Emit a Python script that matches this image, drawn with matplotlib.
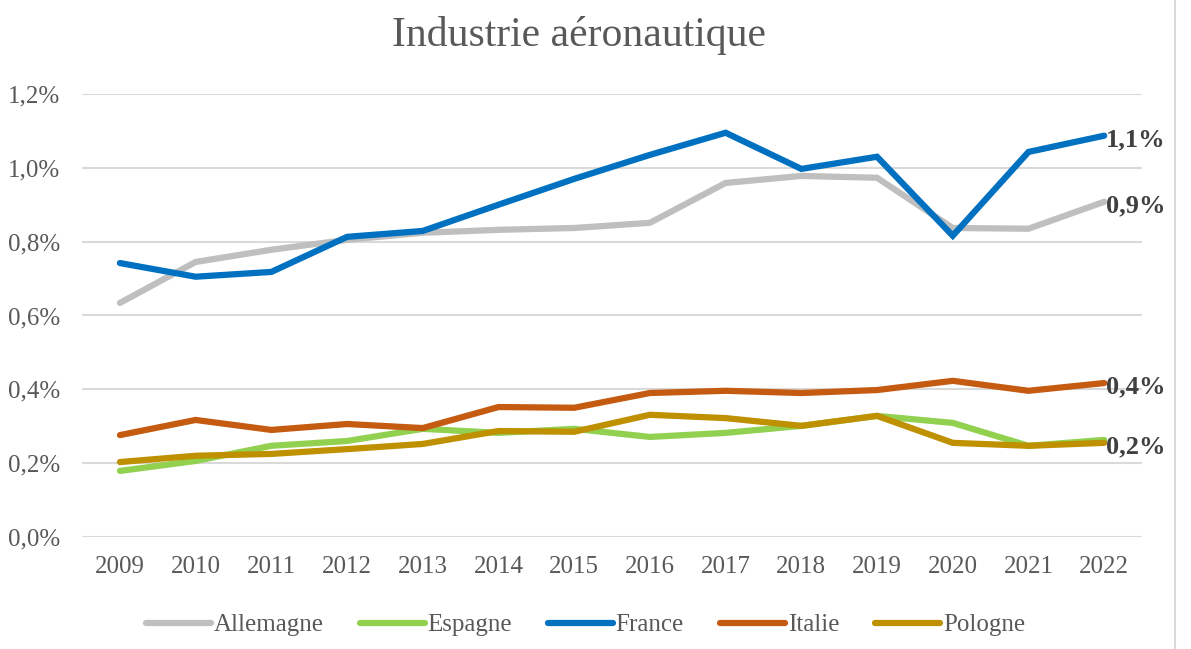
import numpy as np
import matplotlib.pyplot as plt
from matplotlib.lines import Line2D
from matplotlib.ticker import FuncFormatter

plt.rcParams['font.family'] = ['Liberation Serif', 'DejaVu Serif']

years = list(range(2009, 2023))
allemagne = [0.634, 0.745, 0.778, 0.805, 0.824, 0.832, 0.837, 0.851, 0.959, 0.978, 0.973, 0.837, 0.835, 0.908]
espagne = [0.179, 0.206, 0.247, 0.260, 0.293, 0.282, 0.293, 0.271, 0.282, 0.301, 0.328, 0.309, 0.247, 0.263]
france = [0.742, 0.705, 0.718, 0.813, 0.829, 0.900, 0.970, 1.035, 1.095, 0.997, 1.030, 0.816, 1.043, 1.087]
italie = [0.276, 0.317, 0.290, 0.306, 0.295, 0.352, 0.350, 0.390, 0.396, 0.390, 0.398, 0.423, 0.396, 0.417]
pologne = [0.203, 0.220, 0.225, 0.238, 0.252, 0.287, 0.285, 0.331, 0.322, 0.301, 0.328, 0.255, 0.247, 0.255]

series = [
    ("Allemagne", allemagne, "#BFBFBF"),
    ("Espagne", espagne, "#92D050"),
    ("France", france, "#0070C0"),
    ("Italie", italie, "#C55A11"),
    ("Pologne", pologne, "#BF9000"),
]
# labels shown at the end of some lines
end_labels = [("France", "1,1%"), ("Allemagne", "0,9%"), ("Italie", "0,4%"), ("Pologne", "0,2%")]

fig = plt.figure(figsize=(11.91, 6.49), dpi=100)
ax = fig.add_axes([0.0689, 0.1726, 0.89, 0.6826])

for name, vals, col in series:
    ax.plot(years, vals, color=col, lw=4.5, label=name, solid_capstyle='round', solid_joinstyle='miter')

data = {name: vals for name, vals, _ in series}
for name, txt in end_labels:
    ax.annotate(txt, (years[-1], data[name][-1]), xytext=(1, -3), textcoords='offset points',
                ha='left', va='center', fontsize=19, fontweight='bold', color='#404040',
                annotation_clip=False)

ax.set_xlim(2008.5, 2022.5)
ax.set_ylim(0, 1.2)
ax.set_yticks(np.arange(0, 1.21, 0.2))
ax.yaxis.set_major_formatter(FuncFormatter(lambda v, p: f"{v:.1f}%".replace('.', ',')))
ax.set_xticks(years)
ax.tick_params(axis='both', length=0, labelsize=18, labelcolor='#595959')
ax.tick_params(axis='x', pad=14)
ax.tick_params(axis='y', pad=16)
ax.grid(axis='y', color='#D9D9D9', lw=1.5)
ax.set_axisbelow(True)
for s in ax.spines.values():
    s.set_visible(False)

fig.text(0.486, 0.946, "Industrie aéronautique", ha='center', va='center', fontsize=30, color='#595959')

ax.legend(loc='center', bbox_to_anchor=(0.475, -0.199), ncol=5, frameon=False, fontsize=18,
          handlelength=2.6, columnspacing=1.45, handletextpad=0.1, labelcolor='#595959')

fig.add_artist(Line2D([1175 / 1191, 1175 / 1191], [0, 1], color='#D9D9D9', lw=1.5))

fig.savefig("out.png", dpi=100)
